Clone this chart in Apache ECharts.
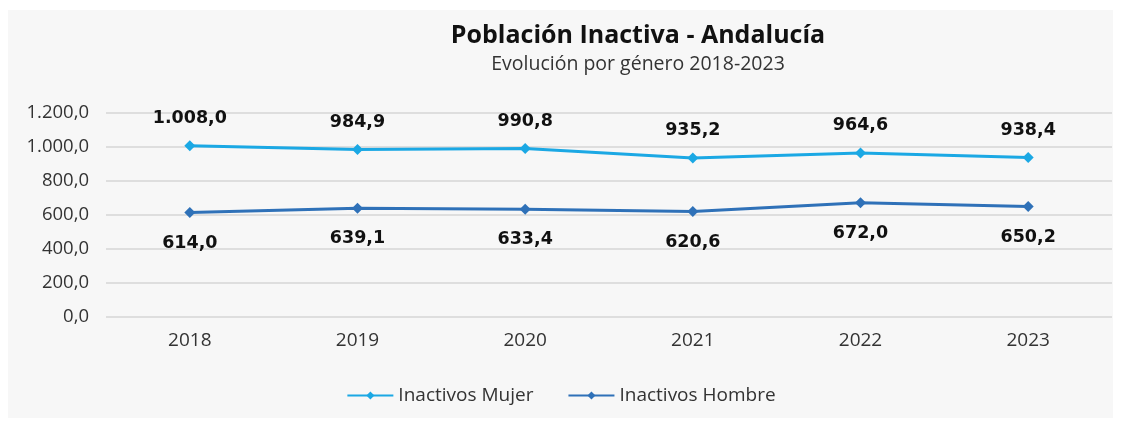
<!DOCTYPE html>
<html>
<head>
<meta charset="utf-8">
<script src="https://cdn.jsdelivr.net/npm/echarts@6/dist/echarts.min.js"></script>
<style>
  html, body { margin: 0; padding: 0; background: #fff; }
  #chart { width: 1122px; height: 422px; }
</style>
</head>
<body>
<div id="chart"></div>
<script>
// data
const years = ['2018', '2019', '2020', '2021', '2022', '2023']
const mujer = [1008.0, 984.9, 990.8, 935.2, 964.6, 938.4]
const hombre = [614.0, 639.1, 633.4, 620.6, 672.0, 650.2]

// 1008 -> "1.008,0"
function fmt (v) {
  let parts = v.toFixed(1).split('.')
  parts[0] = parts[0].replace(/\B(?=(\d{3})+(?!\d))/g, '.')
  return parts[0] + ',' + parts[1]
}

let myChart = echarts.init(document.getElementById('chart'))
let labelStyle = {
  show: true,
  formatter: (p) => fmt(p.value),
  color: '#111',
  fontFamily: 'DejaVu Sans',
  fontWeight: 'bold',
  fontSize: 17.5
}
let option = {
  backgroundColor: '#fff',
  animation: false,
  graphic: [{
    type: 'rect',
    z: -10,
    shape: { x: 8, y: 10, width: 1105, height: 408 },
    style: { fill: '#f7f7f7' }
  }],
  title: {
    text: 'Población Inactiva - Andalucía',
    subtext: 'Evolución por género 2018-2023',
    left: 633,
    textAlign: 'center',
    top: 18,
    itemGap: 6,
    textStyle: { fontFamily: 'Open Sans', fontWeight: 'bold', fontSize: 25, color: '#111' },
    subtextStyle: { fontFamily: 'Open Sans', fontSize: 19.5, color: '#333' }
  },
  legend: {
    bottom: 12,
    left: 'center',
    itemWidth: 46,
    itemHeight: 10,
    itemGap: 34,
    textStyle: { fontFamily: 'Open Sans', fontSize: 19, color: '#333' },
    data: ['Inactivos Mujer', 'Inactivos Hombre']
  },
  grid: { left: 106, right: 10, top: 113, bottom: 105, containLabel: false },
  xAxis: {
    type: 'category',
    data: years,
    boundaryGap: true,
    axisLine: { show: false },
    axisTick: { show: false },
    axisLabel: { fontFamily: 'Open Sans', fontSize: 19, color: '#333', margin: 14 }
  },
  yAxis: {
    type: 'value',
    min: 0,
    max: 1200,
    interval: 200,
    axisLabel: { formatter: fmt, fontFamily: 'Open Sans', fontSize: 18.5, color: '#333', margin: 17 },
    splitLine: { lineStyle: { color: '#d6d6d6', width: 1.5 } }
  },
  series: [{
    name: 'Inactivos Mujer',
    type: 'line',
    data: mujer,
    symbol: 'diamond',
    symbolSize: 11,
    lineStyle: { width: 3, color: '#1ba8e4' },
    itemStyle: { color: '#1ba8e4' },
    label: Object.assign({ position: 'top', distance: 13 }, labelStyle)
  }, {
    name: 'Inactivos Hombre',
    type: 'line',
    data: hombre,
    symbol: 'diamond',
    symbolSize: 11,
    lineStyle: { width: 3, color: '#2f71b8' },
    itemStyle: { color: '#2f71b8' },
    label: Object.assign({ position: 'bottom', distance: 16 }, labelStyle)
  }]
}
myChart.setOption(option)
</script>
</body>
</html>
